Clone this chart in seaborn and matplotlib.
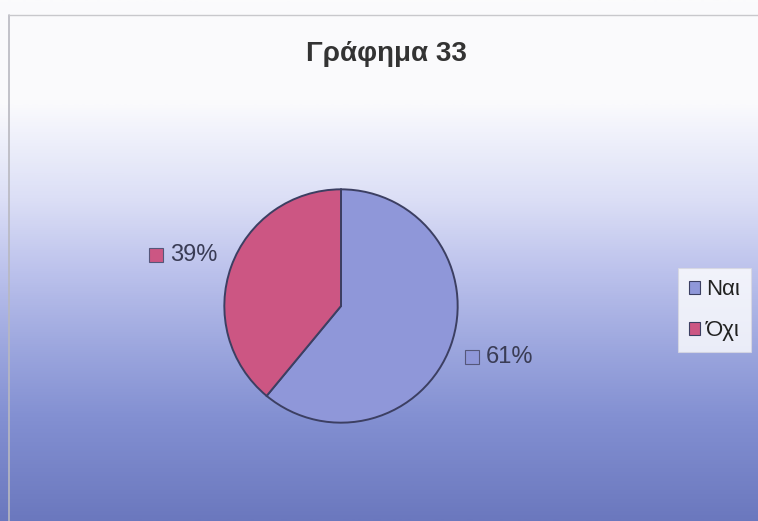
import numpy as np
import matplotlib
matplotlib.use("Agg")
import matplotlib.pyplot as plt
from matplotlib.colors import LinearSegmentedColormap
from matplotlib.patches import Rectangle
from matplotlib.offsetbox import AnnotationBbox, DrawingArea, TextArea, HPacker
import seaborn as sns

# Chart data
categories = ["Ναι", "Όχι"]
shares = [61, 39]
labels = ["61%", "39%"]
title = "Γράφημα 33"

sns.set_theme(style="white")
plt.rcParams["font.family"] = ["Liberation Sans", "DejaVu Sans"]

palette = sns.color_palette(["#8f97d9", "#cc5683"])
edge = "#3c3f62"
text_col = "#3a3c55"

W, H = 758, 521
fig = plt.figure(figsize=(W / 100, H / 100), dpi=100)
fig.patch.set_facecolor("white")

# Background: white top fading into blue at the bottom
bg = fig.add_axes([0, 0, 1, 1], zorder=0)
stops = [
    (0.00, "#fbfbfc"),
    (0.20, "#fafafd"),
    (0.28, "#eceefa"),
    (0.38, "#dcdff6"),
    (0.52, "#bcc2ec"),
    (0.66, "#9ea8df"),
    (0.80, "#8390d2"),
    (1.00, "#6b78be"),
]
cmap = LinearSegmentedColormap.from_list("bgfade", stops)
grad = np.linspace(0, 1, 512).reshape(-1, 1)
bg.imshow(grad, aspect="auto", cmap=cmap, extent=[0, 1, 0, 1], origin="upper")
bg.set_xlim(0, 1)
bg.set_ylim(0, 1)
bg.axis("off")
# thin outer frame lines (left and top)
bg.plot([9 / W, 9 / W], [0, 1 - 15 / H], color="#b8b8c0", lw=1.2)
bg.plot([9 / W, 1], [1 - 15 / H, 1 - 15 / H], color="#c8c8cc", lw=1.0)

fig.text(386 / W, 1 - 54 / H, title, ha="center", va="center",
         fontsize=20, fontweight="bold", color="#333333")

# Pie axes
cx, cy, r = 341, 306, 119
ax = fig.add_axes([(cx - r) / W, (H - cy - r) / H, 2 * r / W, 2 * r / H], zorder=2)
ax.set_facecolor("none")
wedges, _ = ax.pie(shares, colors=palette, startangle=90, counterclock=False,
                   radius=1.0, wedgeprops=dict(edgecolor=edge, linewidth=1.4))
ax.set_xlim(-1.02, 1.02)
ax.set_ylim(-1.02, 1.02)
ax.set_aspect("equal")
ax.axis("off")

# Percent labels with a colour key square
for w, lab, col in zip(wedges, labels, palette):
    mid = np.deg2rad((w.theta1 + w.theta2) / 2)
    pos = (1.44 * np.cos(mid), 1.28 * np.sin(mid))
    da = DrawingArea(10, 10, 0, 0)
    da.add_artist(Rectangle((0, 0), 10, 10, facecolor=col, edgecolor="#55577a", lw=0.8))
    ta = TextArea(lab, textprops=dict(fontsize=17, color=text_col))
    box = HPacker(children=[da, ta], align="center", pad=0, sep=5)
    ab = AnnotationBbox(box, pos, xycoords="data", frameon=False, annotation_clip=False)
    ax.add_artist(ab)

# Legend box, running off the right edge
leg = fig.legend(wedges, categories, loc="upper left",
                 bbox_to_anchor=(678 / W, 1 - 268 / H),
                 fontsize=16, frameon=True, fancybox=False,
                 handlelength=0.5, handleheight=0.5, handletextpad=0.25,
                 labelspacing=0.9, borderpad=0.5, borderaxespad=0)
leg.get_frame().set_facecolor("white")
leg.get_frame().set_edgecolor("#d8d8e0")
leg.get_frame().set_linewidth(0.8)
leg.set_zorder(5)
for t in leg.get_texts():
    t.set_color("#222222")
for h in leg.legend_handles:
    h.set_linewidth(0.8)

fig.savefig("out.png", dpi=100)
